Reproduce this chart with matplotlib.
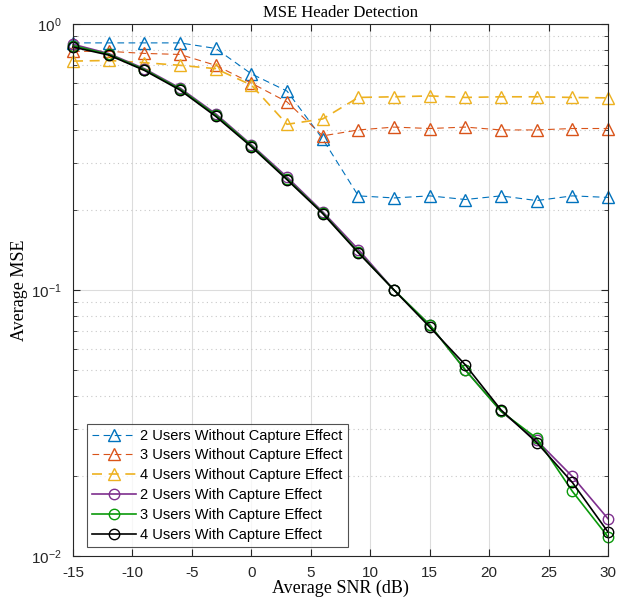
import numpy as np
import matplotlib
matplotlib.use('Agg')
import matplotlib.pyplot as plt
from matplotlib.ticker import LogLocator, FixedLocator, NullFormatter

plt.rcParams['font.family'] = 'Liberation Sans'
plt.rcParams['mathtext.fontset'] = 'custom'
plt.rcParams['mathtext.rm'] = 'Liberation Sans'
plt.rcParams['mathtext.it'] = 'Liberation Sans:italic'
plt.rcParams['axes.unicode_minus'] = False

# SNR points (dB)
snr = [-15, -12, -9, -6, -3, 0, 3, 6, 9, 12, 15, 18, 21, 24, 27, 30]

# without capture effect
mse_2u_nc = [0.85, 0.85, 0.85, 0.85, 0.81, 0.65, 0.56, 0.37, 0.226, 0.222, 0.226, 0.219, 0.226, 0.217, 0.226, 0.223]
mse_3u_nc = [0.79, 0.79, 0.776, 0.769, 0.70, 0.60, 0.51, 0.38, 0.40, 0.41, 0.405, 0.41, 0.40, 0.40, 0.405, 0.405]
mse_4u_nc = [0.726, 0.73, 0.716, 0.70, 0.68, 0.59, 0.42, 0.44, 0.53, 0.533, 0.537, 0.53, 0.533, 0.533, 0.53, 0.528]

# with capture effect
mse_2u_c = [0.84, 0.775, 0.68, 0.575, 0.46, 0.352, 0.266, 0.197, 0.142, 0.1, 0.074, 0.0501, 0.035, 0.0272, 0.0199, 0.0138]
mse_3u_c = [0.83, 0.77, 0.675, 0.57, 0.455, 0.349, 0.262, 0.195, 0.139, 0.1, 0.074, 0.050, 0.035, 0.0277, 0.0175, 0.0118]
mse_4u_c = [0.82, 0.765, 0.67, 0.565, 0.45, 0.346, 0.26, 0.194, 0.138, 0.1, 0.0726, 0.0523, 0.0354, 0.0267, 0.0189, 0.0123]

labels = ['2 Users Without Capture Effect', '3 Users Without Capture Effect',
          '4 Users Without Capture Effect', '2 Users With Capture Effect',
          '3 Users With Capture Effect', '4 Users With Capture Effect']

fig = plt.figure(figsize=(6.31, 6.03), dpi=100)
ax = fig.add_axes([0.1157, 0.078, 0.8479, 0.882])

dash = (0, (6, 4))
kw_t = dict(marker='^', ms=9, mfc='none', mew=1.0, clip_on=False)
kw_c = dict(marker='o', ms=7.5, mfc='none', mew=1.0, lw=1.2, clip_on=False)
ax.semilogy(snr, mse_2u_nc, color='#0072BD', ls=dash, lw=0.8, label=labels[0], **kw_t)
ax.semilogy(snr, mse_3u_nc, color='#D95319', ls=dash, lw=0.8, label=labels[1], **kw_t)
ax.semilogy(snr, mse_4u_nc, color='#EDB120', ls=dash, lw=1.2, label=labels[2], **kw_t)
ax.semilogy(snr, mse_2u_c, color='#7E2F8E', label=labels[3], **kw_c)
ax.semilogy(snr, mse_3u_c, color='#0A9A0A', label=labels[4], **kw_c)
ax.semilogy(snr, mse_4u_c, color='black', label=labels[5], **kw_c)

ax.set_xlim(-15, 30)
ax.set_ylim(1e-2, 1)
ax.xaxis.set_major_locator(FixedLocator(np.arange(-15, 31, 5)))
ax.yaxis.set_major_locator(LogLocator(base=10, numticks=5))
ax.yaxis.set_minor_locator(LogLocator(base=10, subs=np.arange(2, 10), numticks=20))
ax.yaxis.set_minor_formatter(NullFormatter())

ax.grid(True, which='major', color='#dcdcdc', lw=0.8, ls='-')
ax.grid(True, which='minor', axis='y', color='#c8c8c8', lw=0.8, ls=(0, (1, 3)))
ax.set_axisbelow(True)
ax.tick_params(which='both', direction='in', top=True, right=True, labelsize=11, colors='#262626')
ax.tick_params(which='major', length=5)
ax.tick_params(which='minor', length=3)
ax.tick_params(axis='x', pad=7)
ax.tick_params(axis='y', pad=8)
for s in ax.spines.values():
    s.set_color('#262626')
    s.set_linewidth(0.8)

ax.set_title('MSE Header Detection', family='Liberation Serif', fontsize=12, pad=5)
ax.set_xlabel('Average SNR (dB)', family='Liberation Serif', fontsize=13, labelpad=0)
ax.set_ylabel('Average MSE', family='Liberation Serif', fontsize=13, labelpad=2)

leg = ax.legend(loc='lower left', bbox_to_anchor=(0.026, 0.017), fontsize=10.5, frameon=True,
                fancybox=False, edgecolor='#262626', handlelength=3.0, handletextpad=0.3,
                labelspacing=0.4, borderpad=0.35, borderaxespad=0)
leg.get_frame().set_linewidth(0.8)

fig.savefig('out.png', dpi=100)
